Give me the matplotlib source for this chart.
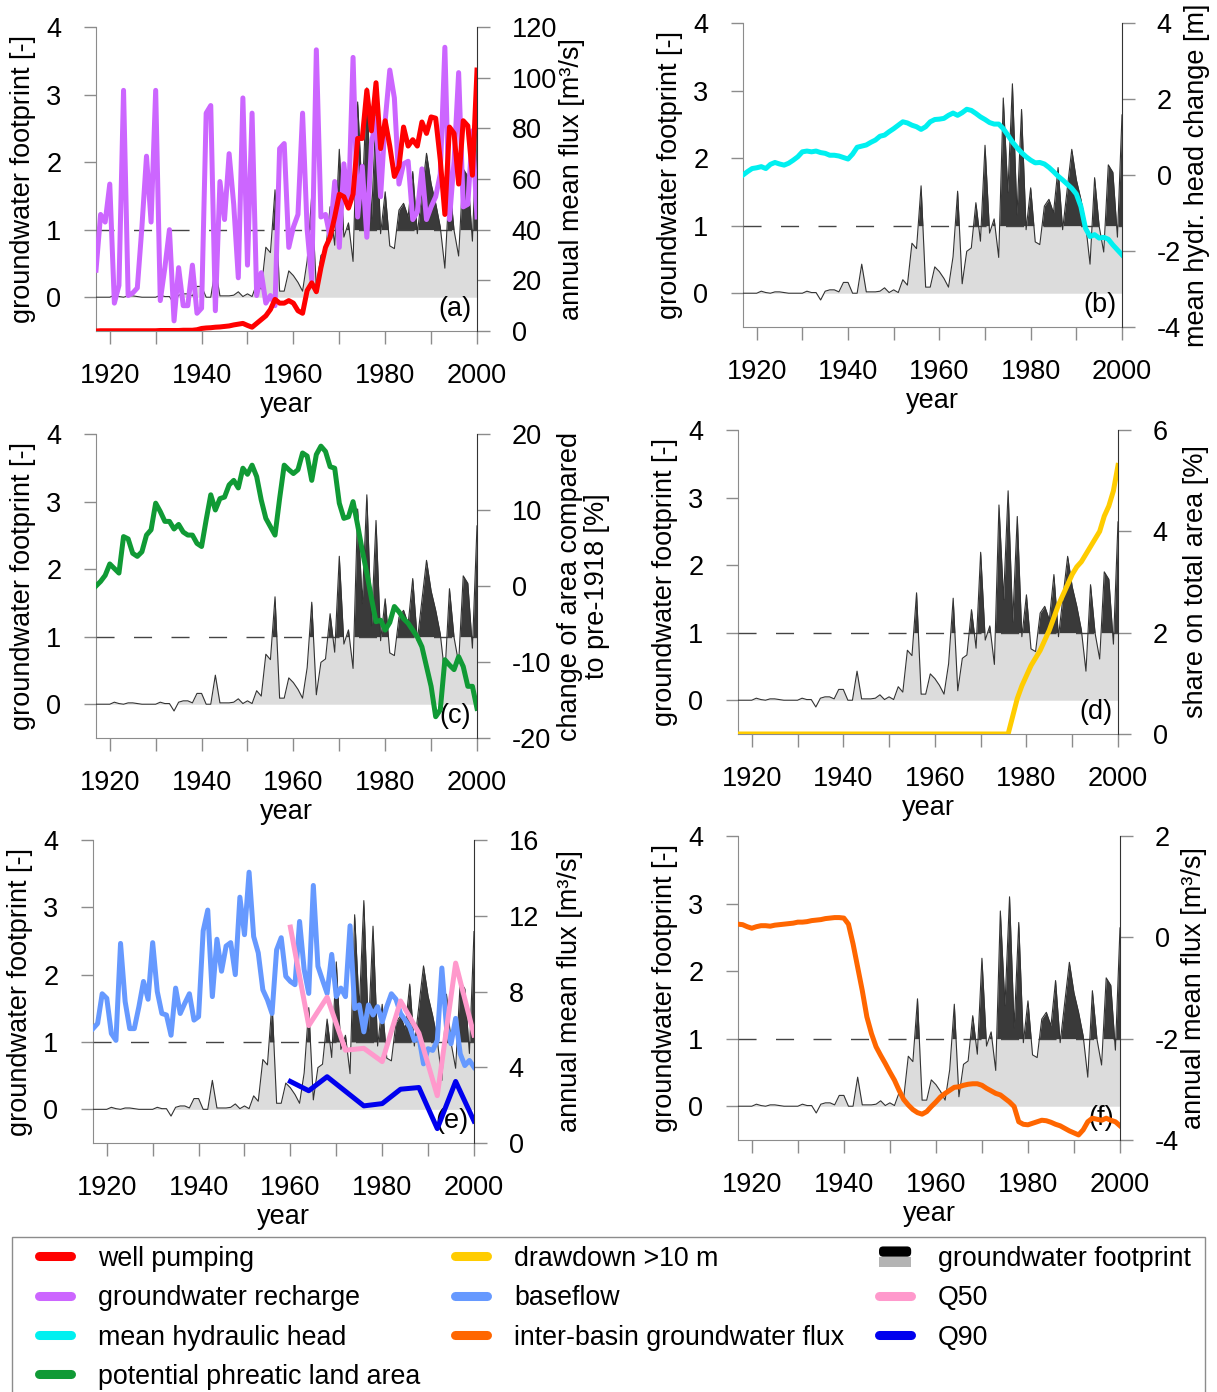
import numpy as np
import matplotlib
matplotlib.use("Agg")
import matplotlib.pyplot as plt
import matplotlib.patches as mpatches
from matplotlib.lines import Line2D
from matplotlib.legend_handler import HandlerBase

plt.rcParams['font.family'] = ['Liberation Sans', 'DejaVu Sans']
plt.rcParams['axes.unicode_minus'] = False
FS = 19.5

# ---------------- data ----------------
years = np.arange(1917, 2001)

footprint = [0.0, 0.0, 0.0, 0.0, 0.03, 0.01, 0.0, 0.02, 0.02, 0.01,
             0.0, 0.0, 0.0, 0.0, 0.03, 0.01, 0.01, -0.1, 0.03, 0.05,
             0.05, 0.02, 0.16, 0.16, 0.0, 0.0, 0.43, 0.02, 0.02, 0.02,
             0.03, 0.08, 0.01, 0.05, 0.01, 0.2, 0.12, 0.74, 0.66, 1.59,
             0.09, 0.09, 0.39, 0.32, 0.22, 0.09, 0.54, 1.51, 0.14, 0.62,
             0.67, 1.34, 0.77, 2.19, 0.89, 1.1, 0.53, 2.89, 1.49, 3.1,
             1.16, 2.72, 0.94, 1.56, 0.76, 0.72, 1.29, 1.39, 1.19, 1.86,
             0.94, 1.54, 2.13, 1.68, 1.39, 1.04, 0.43, 1.71, 0.99, 0.61,
             1.9, 1.79, 0.83, 2.64]

well_pumping = [0.0, 0.1, 0.1, 0.1, 0.1, 0.1, 0.1, 0.1, 0.1, 0.1,
                0.1, 0.1, 0.1, 0.1, 0.2, 0.2, 0.2, 0.2, 0.2, 0.3,
                0.3, 0.3, 0.5, 1.0, 1.2, 1.3, 1.5, 1.6, 1.8, 2.0,
                2.4, 2.7, 3.0, 2.2, 1.5, 3.0, 4.5, 6.0, 8.5, 12.5,
                11.0, 11.0, 12.0, 11.0, 8.0, 7.0, 16.0, 19.0, 15.5, 25.0,
                33.0, 37.0, 45.0, 54.0, 53.0, 48.5, 54.0, 76.0, 76.0, 95.0,
                79.0, 98.0, 72.0, 83.0, 73.0, 61.0, 65.0, 80.5, 73.0, 75.5,
                73.0, 82.5, 78.0, 84.5, 84.0, 67.5, 46.0, 80.5, 78.0, 58.0,
                83.0, 81.0, 61.5, 103.0]

recharge = [24, 46, 43, 58, 11, 18, 95, 14, 15, 17,
            41, 69, 43, 95, 12, 25, 40, 4, 25, 10,
            10, 26, 7, 9, 86, 89, 8, 59, 44, 70,
            50, 21, 92, 26, 86, 14, 23, 11, 14, 10,
            72, 74, 33, 41, 46, 86, 40, 20, 111, 45,
            46, 37, 59, 33, 66, 49, 108, 45, 65, 37,
            74, 84, 53, 83, 103, 92, 58, 66, 67, 44,
            47, 64, 44, 49, 53, 62, 112, 44, 67, 102,
            49, 50, 79, 45]

head_change = [0.0, 0.09, 0.17, 0.19, 0.22, 0.17, 0.28, 0.33, 0.29, 0.26,
               0.31, 0.39, 0.48, 0.61, 0.63, 0.61, 0.63, 0.59, 0.57, 0.52,
               0.52, 0.5, 0.46, 0.42, 0.55, 0.73, 0.76, 0.79, 0.86, 0.92,
               1.02, 1.05, 1.14, 1.22, 1.31, 1.4, 1.37, 1.31, 1.27, 1.2,
               1.27, 1.4, 1.46, 1.47, 1.49, 1.57, 1.63, 1.57, 1.64, 1.73,
               1.7, 1.62, 1.53, 1.46, 1.38, 1.34, 1.34, 1.22, 1.05, 0.87,
               0.72, 0.59, 0.48, 0.39, 0.32, 0.33, 0.29, 0.2, 0.09, -0.03,
               -0.13, -0.24, -0.35, -0.5, -0.83, -1.4, -1.62, -1.57, -1.66, -1.64,
               -1.69, -1.84, -1.97, -2.1]

phreatic_area = [0.0, 0.6, 1.4, 2.9, 2.3, 1.7, 6.5, 6.2, 4.3, 3.9,
                 4.5, 6.7, 7.4, 10.9, 9.8, 8.5, 8.5, 7.5, 8.1, 7.1,
                 6.7, 6.7, 5.6, 5.2, 8.7, 12.0, 10.0, 11.5, 11.7, 13.3,
                 13.9, 12.9, 15.5, 14.7, 15.9, 14.4, 11.3, 8.9, 7.8, 6.7,
                 11.5, 15.9, 15.3, 14.8, 15.3, 17.5, 17.1, 13.9, 17.3, 18.4,
                 17.7, 15.7, 15.5, 10.9, 8.9, 9.1, 11.1, 8.0, 4.7, 1.7,
                 -1.6, -4.7, -4.5, -5.8, -4.8, -2.7, -3.4, -4.3, -4.9, -5.8,
                 -6.7, -8.0, -10.6, -13.2, -17.2, -16.3, -9.7, -10.4, -11.0, -9.3,
                 -10.6, -13.2, -13.2, -16.1]

drawdown = [0.0] * 60 + [0.35, 0.7, 0.95, 1.15, 1.35, 1.5, 1.65, 1.85, 2.05, 2.3,
                         2.55, 2.75, 2.95, 3.15, 3.3, 3.4, 3.55, 3.7, 3.85, 4.0,
                         4.3, 4.5, 4.8, 5.3]

baseflow = [6.04, 6.31, 7.88, 7.64, 5.78, 5.42, 10.54, 7.47, 6.04, 6.04,
            7.2, 8.53, 7.59, 10.58, 8.0, 6.84, 6.76, 5.69, 8.18, 6.84,
            7.38, 7.88, 6.49, 6.67, 11.2, 12.3, 7.73, 10.76, 9.07, 10.4,
            10.58, 8.89, 12.98, 11.0, 14.3, 10.9, 10.04, 8.09, 7.56, 6.84,
            10.2, 10.84, 8.8, 8.53, 8.36, 11.7, 9.16, 7.9, 13.6, 9.33,
            8.6, 7.9, 9.96, 7.73, 8.18, 7.73, 11.47, 7.1, 7.29, 5.87,
            7.29, 6.76, 7.2, 6.4, 7.2, 7.88, 7.59, 6.84, 6.49, 6.13,
            5.42, 5.6, 4.18, 4.98, 4.89, 5.42, 9.24, 6.13, 5.24, 6.58,
            4.71, 4.09, 4.36, 4.0]

q_years = np.arange(1960, 2001, 4)
q50 = [11.4, 6.2, 7.7, 4.9, 5.0, 4.3, 7.5, 5.8, 2.5, 9.5, 5.7]
q90 = [3.25, 2.76, 3.5, 2.73, 1.96, 2.08, 2.84, 2.93, 0.76, 3.25, 1.16]

interbasin_flux = [0.26, 0.25, 0.21, 0.18, 0.21, 0.23, 0.23, 0.22, 0.24, 0.25,
                   0.26, 0.27, 0.28, 0.3, 0.3, 0.31, 0.33, 0.34, 0.35, 0.37,
                   0.38, 0.39, 0.39, 0.38, 0.26, -0.13, -0.59, -1.05, -1.57, -1.9,
                   -2.16, -2.33, -2.49, -2.66, -2.82, -3.02, -3.2, -3.31, -3.4, -3.46,
                   -3.49, -3.44, -3.34, -3.25, -3.15, -3.08, -3.02, -2.96, -2.95, -2.92,
                   -2.9, -2.89, -2.89, -2.92, -2.98, -3.03, -3.08, -3.11, -3.18, -3.25,
                   -3.34, -3.64, -3.69, -3.7, -3.67, -3.64, -3.61, -3.62, -3.65, -3.69,
                   -3.72, -3.77, -3.82, -3.86, -3.9, -3.8, -3.64, -3.57, -3.59, -3.61,
                   -3.57, -3.61, -3.64, -3.72]

colors = {
    'well pumping': '#ff0000',
    'groundwater recharge': '#cc66ff',
    'mean hydraulic head': '#00f0f0',
    'potential phreatic land area': '#109a35',
    'drawdown >10 m': '#ffcc00',
    'baseflow': '#6699ff',
    'inter-basin groundwater flux': '#ff6600',
    'Q50': '#ff99cc',
    'Q90': '#0000ee',
}

# ---------------- layout ----------------
W, H = 1217, 1392
fig = plt.figure(figsize=(W / 100, H / 100), dpi=100)


def rect(l, r, t, b):
    return [l / W, 1 - b / H, (r - l) / W, (b - t) / H]


SPINE = '#8c8c8c'


def base_panel(box, letter):
    l, r, t, b = box
    ax = fig.add_axes(rect(*box))
    fp = np.array(footprint)
    xf = np.linspace(years[0], years[-1], 3000)
    ff = np.interp(xf, years, fp)
    ax.fill_between(xf, 0, np.clip(ff, 0, 1), color='#dcdcdc', lw=0, zorder=1)
    ax.fill_between(xf, 1, np.maximum(ff, 1), color='#3a3a3a', lw=0, zorder=2)
    ax.plot([years[0], years[-1]], [1, 1], color='#444444', lw=1.0,
            dashes=(13, 14), zorder=3)
    ax.plot(years, fp, color='#333333', lw=0.8, zorder=4)
    ax.set_xlim(1917, 2000)
    ax.set_ylim(-0.5, 4)
    ax.set_yticks([0, 1, 2, 3, 4])
    ax.set_xticks(range(1920, 2001, 10))
    ax.set_xticklabels([str(y) if y % 20 == 0 else '' for y in range(1920, 2001, 10)])
    ax.tick_params(direction='out', length=9, width=1, color=SPINE, labelsize=FS)
    ax.tick_params(axis='x', pad=14)
    ax.tick_params(axis='y', pad=16)
    ax.spines['top'].set_visible(False)
    ax.spines['right'].set_visible(False)
    ax.spines['left'].set_color(SPINE)
    ax.spines['bottom'].set_color(SPINE)
    ax.set_ylabel('groundwater footprint [-]', fontsize=FS)
    ax.yaxis.set_label_coords(-60 / (r - l), 0.5)
    ax.set_xlabel('year', fontsize=FS)
    ax.xaxis.set_label_coords(0.5, -61 / (b - t))
    ax.text(0.985, 0.03, letter, transform=ax.transAxes, ha='right', va='bottom',
            fontsize=FS, zorder=10)
    ax2 = ax.twinx()
    for s in ('top', 'left', 'bottom'):
        ax2.spines[s].set_visible(False)
    ax2.spines['right'].set_color('#333333')
    ax2.tick_params(direction='out', length=9, width=1, color=SPINE,
                    labelsize=FS, pad=16)
    ax.set_zorder(1)
    ax2.set_zorder(2)
    return ax, ax2


def right_label(ax2, text, offset, **kw):
    # offset = px from the right spine to the left edge of the label box
    wpx = ax2.get_position().width * W
    ax2.set_ylabel(text, fontsize=FS, **kw)
    ax2.yaxis.set_label_coords(1 + offset / wpx, 0.5)


LW = 3.6

# (a)
ax, ax2 = base_panel((96, 477, 27, 331), '(a)')
ax2.plot(years, recharge, color=colors['groundwater recharge'], lw=LW)
ax2.plot(years, well_pumping, color=colors['well pumping'], lw=LW)
ax2.set_ylim(0, 120)
ax2.set_yticks(range(0, 121, 20))
right_label(ax2, 'annual mean flux [m³/s]', 82)

# (b)
ax, ax2 = base_panel((743, 1122, 23, 327), '(b)')
ax2.plot(years, head_change, color=colors['mean hydraulic head'], lw=LW)
ax2.set_ylim(-4, 4)
ax2.set_yticks([-4, -2, 0, 2, 4])
right_label(ax2, 'mean hydr. head change [m]', 62)

# (c)
ax, ax2 = base_panel((96, 477, 434, 738), '(c)')
ax2.plot(years, phreatic_area, color=colors['potential phreatic land area'], lw=LW)
ax2.set_ylim(-20, 20)
ax2.set_yticks([-20, -10, 0, 10, 20])
right_label(ax2, 'change of area compared\nto pre-1918 [%]', 80, linespacing=1.05)

# (d)
ax, ax2 = base_panel((738, 1118, 430, 734), '(d)')
ax2.plot(years, drawdown, color=colors['drawdown >10 m'], lw=LW)
ax2.set_ylim(0, 6)
ax2.set_yticks([0, 2, 4, 6])
right_label(ax2, 'share on total area [%]', 65)

# (e)
ax, ax2 = base_panel((93, 474, 840, 1143), '(e)')
ax2.plot(years, baseflow, color=colors['baseflow'], lw=LW)
ax2.plot(q_years, q50, color=colors['Q50'], lw=LW)
ax2.plot(q_years, q90, color=colors['Q90'], lw=LW)
ax2.set_ylim(0, 16)
ax2.set_yticks([0, 4, 8, 12, 16])
right_label(ax2, 'annual mean flux [m³/s]', 83)

# (f)
ax, ax2 = base_panel((738, 1120, 836, 1140), '(f)')
ax2.plot(years, interbasin_flux, color=colors['inter-basin groundwater flux'], lw=LW)
ax2.set_ylim(-4, 2)
ax2.set_yticks([-4, -2, 0, 2])
right_label(ax2, 'annual mean flux [m³/s]', 61)


# ---------------- legend ----------------
class FootprintHandler(HandlerBase):
    def create_artists(self, legend, orig_handle, xdescent, ydescent,
                       width, height, fontsize, trans):
        top = mpatches.FancyBboxPatch((-xdescent, -ydescent + height / 2), width, height / 2,
                                      boxstyle='round,pad=0,rounding_size=3',
                                      fc='black', ec='none', transform=trans)
        bot = mpatches.Rectangle((-xdescent, -ydescent), width, height / 2,
                                 fc='#b4b4b4', ec='none', transform=trans)
        return [bot, top]


def lh(c):
    return Line2D([], [], color=c, lw=6.5, solid_capstyle='round')


order = ['well pumping', 'groundwater recharge', 'mean hydraulic head',
         'potential phreatic land area', 'drawdown >10 m', 'baseflow',
         'inter-basin groundwater flux', 'groundwater footprint', 'Q50', 'Q90']
handles = []
for name in order:
    if name == 'groundwater footprint':
        handles.append(mpatches.Patch())
    else:
        handles.append(lh(colors[name]))

fig.add_artist(mpatches.Rectangle((12 / W, -0.01), (1205 - 12) / W, 0.01 + 1 - 1237 / H,
                                  transform=fig.transFigure, fill=False,
                                  ec='#8c8c8c', lw=1.0))
fig.legend(handles, order, ncol=3, loc='upper left',
           bbox_to_anchor=(39 / W, 1 - 1246 / H), frameon=False, fontsize=19.3,
           handlelength=1.2, handleheight=0.8, handletextpad=1.0,
           columnspacing=1.3, labelspacing=0.5, borderpad=0, borderaxespad=0,
           handler_map={mpatches.Patch: FootprintHandler()})

fig.savefig('out.png', dpi=100)
